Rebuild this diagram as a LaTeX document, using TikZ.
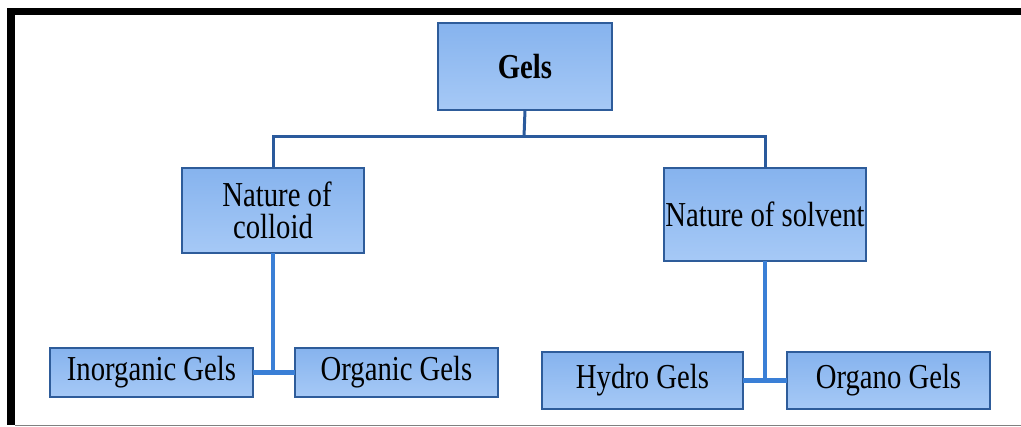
\documentclass[tikz,border=0pt]{standalone}
\usepackage{fontspec}
\newfontfamily\nf[FakeStretch=0.82]{Liberation Serif}
\definecolor{boxedge}{HTML}{2E5C9A}
\definecolor{boxtop}{HTML}{86B3EE}
\definecolor{boxbot}{HTML}{A6C9F6}
\definecolor{topln}{HTML}{2A5A9C}
\definecolor{lowln}{HTML}{3A7FD6}
\begin{document}
\begin{tikzpicture}[x=1pt,y=-1pt,
  gbox/.style={draw=boxedge,line width=2pt,top color=boxtop,bottom color=boxbot,
    inner sep=0pt,outer sep=0pt,align=center,text=black,
    font=\nf\fontsize{35}{32}\selectfont},
  topline/.style={draw=topln,line width=3pt},
  lowline/.style={draw=lowln,line width=4.5pt}]
\useasboundingbox (0,0) rectangle (1021,427);
\fill[white] (0,0) rectangle (1021,427);
% frame
\fill[black] (7,8) rectangle (1021,15);
\fill[black] (7,8) rectangle (15,425);
\draw[gray,line width=1.5pt] (15,425.5) -- (1021,425.5);
% nodes
\node[gbox,minimum width=174pt,minimum height=87pt] (gels) at (525,66.5) {\bfseries Gels};
\node[gbox,minimum width=182pt,minimum height=85pt] (colloid) at (273,210.5) {\hspace*{8pt}Nature of\\colloid};
\node[gbox,minimum width=202pt,minimum height=93pt] (solvent) at (765,214.5) {Nature of solvent};
\node[gbox,minimum width=203pt,minimum height=49pt] (inorg) at (151.5,372.5) {Inorganic Gels};
\node[gbox,minimum width=203pt,minimum height=49pt] (org) at (396.5,372.5) {Organic Gels};
\node[gbox,minimum width=201pt,minimum height=57pt] (hydro) at (642.5,380.5) {Hydro Gels};
\node[gbox,minimum width=203pt,minimum height=57pt] (organo) at (888.5,380.5) {Organo Gels};
% connectors
\coordinate (j1) at (524,137);
\draw[topline] (gels.south) -- (j1);
\draw[topline] (colloid.north) |- (j1) -| (solvent.north);
\draw[lowline] (inorg.east) -- (org.west);
\draw[lowline] (colloid.south) -- (colloid.south |- inorg.east);
\draw[lowline] (hydro.east) -- (organo.west);
\draw[lowline] (solvent.south) -- (solvent.south |- hydro.east);
\end{tikzpicture}
\end{document}
